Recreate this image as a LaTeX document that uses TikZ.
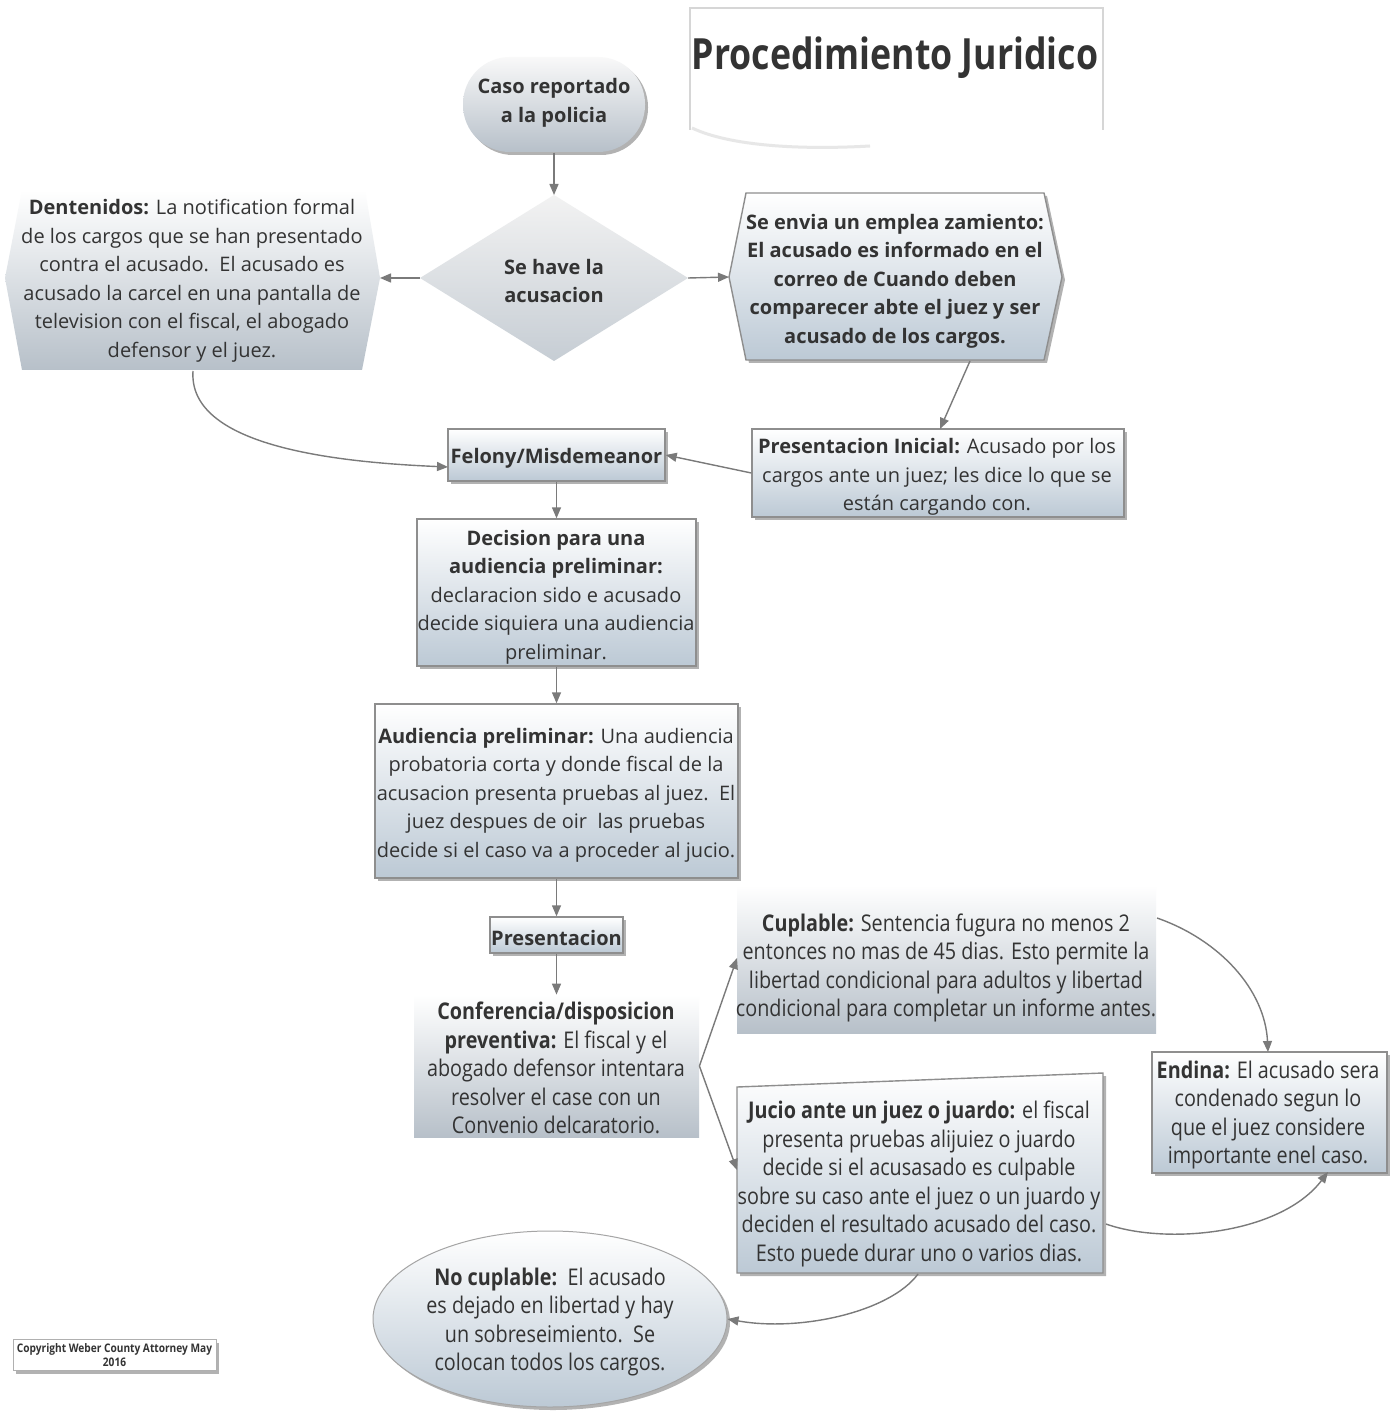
\documentclass[tikz,border=0pt]{standalone}
\usepackage{fontspec}
\setmainfont{Open Sans}
\newfontfamily\condf[FakeStretch=0.86]{Open Sans}
\newfontfamily\titlef[FakeStretch=0.83]{Open Sans}
\usetikzlibrary{shadows,arrows.meta,shapes.geometric}
\definecolor{txt}{HTML}{333333}
\definecolor{bblue}{HTML}{BCC9D5}
\definecolor{bgrey}{HTML}{B7C0C9}
\definecolor{dgrey}{HTML}{C6CDD4}
\definecolor{edge}{HTML}{8E8E8E}
\definecolor{arr}{HTML}{7A7A7A}
\definecolor{tframe}{HTML}{D6D6D6}
\begin{document}
\begin{tikzpicture}[x=0.5pt,y=-0.5pt,
  every node/.style={text=txt, inner sep=0pt, align=center},
  tnorm/.style={font=\fontsize{10}{14.25}\selectfont, yshift=-1.5pt},
  tbold/.style={font=\bfseries\fontsize{10}{14.25}\selectfont, yshift=-1.5pt},
  tcond/.style={font=\condf\fontsize{11.5}{14.25}\selectfont, yshift=-1.5pt},
  shd/.style={drop shadow={shadow xshift=1.5pt, shadow yshift=-1.5pt, fill=black, opacity=0.3}},
  boxs/.style={draw=edge, line width=0.7pt, top color=white, bottom color=bblue, shd},
  flat/.style={top color=white, bottom color=bgrey},
  conn/.style={draw=arr, line width=0.7pt, -{Triangle[length=5.5pt,width=4.5pt]}},
]
\useasboundingbox (0,0) rectangle (1393,1416);
\fill[white] (0,0) rectangle (1393,1416);

% title
\draw[tframe, line width=1.2pt] (690,130) -- (690,8) -- (1103,8) -- (1103,130);
\draw[tframe!60, line width=1.5pt] (692,128) .. controls (730,146) and (800,150) .. (870,146);
\node[font=\titlef\bfseries\fontsize{21.5}{24}\selectfont, text=black!80] (title) at (895,58) {Procedimiento Juridico};

% Caso reportado
\node[boxs, top color=white!95!gray, bottom color=bgrey, draw=none, rounded corners=23.5pt, minimum width=91pt, minimum height=47.5pt] (caso) at (554,104.5) {};
\node[tbold] (casot) at (554,100) {Caso reportado\\a la policia};

% diamond
\path[top color=white!90!gray, bottom color=dgrey] (554,195) -- (688,278) -- (554,361) -- (420,278) -- cycle;
\coordinate (dia-n) at (554,195);
\coordinate (dia-e) at (688,278);
\coordinate (dia-w) at (420,278);
\node[tbold] (dia) at (554,278) {Se have la\\acusacion};

% Dentenidos
\path[flat] (22,190) -- (365,190) -- (380,278) -- (362,370) -- (22,370) -- (5,278) -- cycle;
\coordinate (den-e) at (380,278);
\coordinate (den-s) at (193,371);
\node[tnorm] (den) at (192,278) {\textbf{Dentenidos:} La notification formal\\de los cargos que se han presentado\\contra el acusado.\ \ El acusado es\\acusado la carcel en una pantalla de\\television con el fiscal, el abogado\\defensor y el juez.};

% Se envia
\path[boxs] (746,193) -- (1044,193) -- (1062,277) -- (1044,360) -- (746,360) -- (729,277) -- cycle;
\coordinate (env-w) at (729,277);
\coordinate (env-s) at (970,361);
\node[tbold] (env) at (895,278) {Se envia un emplea zamiento:\\El acusado es informado en el\\correo de Cuando deben\\comparecer abte el juez y ser\\acusado de los cargos.};

% Presentacion Inicial
\node[boxs, minimum width=186pt, minimum height=44pt] (pini) at (938,473) {};
\node[tnorm] (pinit) at (937,474) {\textbf{Presentacion Inicial:} Acusado por los\\cargos ante un juez; les dice lo que se\\están cargando con.};
\coordinate (pini-n) at (940,429);

% Felony
\node[boxs, minimum width=108.5pt, minimum height=26pt] (fel) at (556.5,455) {};
\node[tbold] (felt) at (556.5,455) {Felony/Misdemeanor};
\coordinate (fel-w) at (448,467);

% Decision
\node[boxs, minimum width=139.5pt, minimum height=73.5pt] (dec) at (556.5,592.5) {};
\node[tnorm] (dect) at (556,594) {\textbf{Decision para una}\\\textbf{audiencia preliminar:}\\declaracion sido e acusado\\decide siquiera una audiencia\\preliminar.};

% Audiencia
\node[boxs, minimum width=181.5pt, minimum height=87pt] (aud) at (556.5,791) {};
\node[tnorm] (audt) at (556,792) {\textbf{Audiencia preliminar:} Una audiencia\\probatoria corta y donde fiscal de la\\acusacion presenta pruebas al juez.\ \ El\\juez despues de oir\ \ las pruebas\\decide si el caso va a proceder al jucio.};

% Presentacion
\node[boxs, minimum width=66.5pt, minimum height=18pt] (pres) at (556.5,935) {};
\node[tbold] (prest) at (556.5,935) {Presentacion};

% Conferencia
\node[flat, minimum width=142.5pt, minimum height=71pt] (conf) at (556.5,1066) {};
\node[tcond] (conft) at (556,1065) {\textbf{Conferencia/disposicion}\\\textbf{preventiva:} El fiscal y el\\abogado defensor intentara\\resolver el case con un\\Convenio delcaratorio.};

% Cuplable
\node[flat, minimum width=209.5pt, minimum height=74pt] (cup) at (946.5,959) {};
\node[tcond] (cupt) at (946,965) {\textbf{Cuplable:} Sentencia fugura no menos 2\\entonces no mas de 45 dias. Esto permite la\\libertad condicional para adultos y libertad\\condicional para completar un informe antes.};
\coordinate (cup-w) at (737,958);
\coordinate (cup-ne) at (1157,918);

% Jucio
\path[boxs] (737,1087) -- (1103,1073) -- (1103,1273) -- (737,1273) -- cycle;
\node[tcond] (jut) at (919,1181) {\textbf{Jucio ante un juez o juardo:} el fiscal\\presenta pruebas alijuiez o juardo\\decide si el acusasado es culpable\\sobre su caso ante el juez o un juardo y\\deciden el resultado acusado del caso.\\Esto puede durar uno o varios dias.};
\coordinate (ju-w) at (737,1170);
\coordinate (ju-e) at (1106,1224);
\coordinate (ju-s) at (918,1274);

% Endina
\node[boxs, minimum width=117.5pt, minimum height=60.5pt] (end) at (1269.5,1112.5) {};
\node[tcond] (endt) at (1268,1112) {\textbf{Endina:} El acusado sera\\condenado segun lo\\que el juez considere\\importante enel caso.};
\coordinate (end-n) at (1268,1052);
\coordinate (end-s) at (1328,1172);

% No cuplable
\node[ellipse, draw=edge!80, line width=0.5pt, top color=white, bottom color=bblue, minimum width=177pt, minimum height=88pt, shd] (noc) at (550,1319) {};
\node[tcond] (noct) at (550,1319) {\textbf{No cuplable:}\ \ El acusado\\es dejado en libertad y hay\\un sobreseimiento.\ \ Se\\colocan todos los cargos.};

% Copyright
\node[draw=edge!70, line width=0.5pt, fill=white, minimum width=101.5pt, minimum height=15.5pt, shd] (copy) at (114.5,1355) {};
\node[font=\condf\bfseries\fontsize{5.9}{7}\selectfont] (copyt) at (114.5,1355) {Copyright Weber County Attorney May\\2016};

% connectors
\draw[conn] (caso.south) -- (dia-n);
\draw[conn] (dia-w) -- (den-e);
\draw[conn] (dia-e) -- (env-w);
\draw[conn] (env-s) -- (pini-n);
\draw[conn] (pini.west) -- (fel.east);
\draw[conn] (den-s) .. controls (188,445) and (330,462) .. (fel-w);
\draw[conn] (fel.south) -- (dec.north);
\draw[conn] (dec.south) -- (aud.north);
\draw[conn] (aud.south) -- (pres.north);
\draw[conn] (pres.south) -- (conf.north);
\draw[conn] (conf.east) -- (cup-w);
\draw[conn] (conf.east) -- (ju-w);
\draw[conn] (cup-ne) .. controls (1220,940) and (1265,990) .. (end-n);
\draw[conn] (ju-e) .. controls (1165,1245) and (1280,1235) .. (end-s);
\draw[conn] (ju-s) .. controls (890,1312) and (800,1332) .. (noc.east);
\end{tikzpicture}
\end{document}
